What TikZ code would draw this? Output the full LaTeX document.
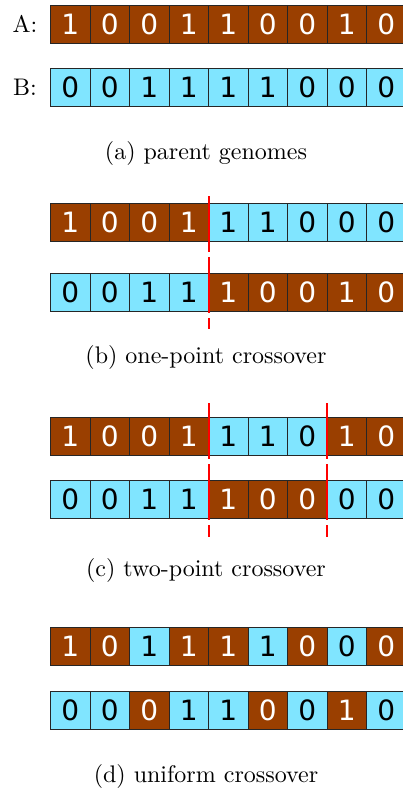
\documentclass[tikz,border=0pt]{standalone}
\usepackage{fontspec}
\newfontfamily\digitfont{DejaVu Sans}
\definecolor{gbrown}{HTML}{9A3F00}
\definecolor{gcyan}{HTML}{80E5FF}
\colorlet{fB}{gbrown}
\colorlet{tB}{white}
\colorlet{fC}{gcyan}
\colorlet{tC}{black}
\tikzset{
  cell/.style={draw=black!85, line width=0.8pt, minimum width=39.5pt, minimum height=38.5pt,
    inner sep=0pt, outer sep=0pt, anchor=north west, font=\digitfont\fontsize{28}{28}\selectfont},
  cutline/.style={draw=red, line width=2pt, dash pattern=on 56pt off 5pt},
  captext/.style={font=\rmfamily, scale=2.4, inner sep=0pt},
}
\newcommand\generow[3]{%
  \foreach \d/\s [count=\i] in {#3} {
    \node[cell, fill=f\s, text=t\s] (#1-\i) at ({50.5pt+(\i-1)*39.5pt}, {-#2pt}) {\d};
  }}
\begin{document}
\begin{tikzpicture}[x=1pt,y=1pt]
\useasboundingbox (0,0) rectangle (403,-792);
% (a)
\node[captext] (labA) at (25,-24) {A:};
\node[captext] (labB) at (25,-87) {B:};
\generow{a}{5}{1/B,0/B,0/B,1/B,1/B,0/B,0/B,1/B,0/B}
\generow{b}{68}{0/C,0/C,1/C,1/C,1/C,1/C,0/C,0/C,0/C}
\node[captext] (capa) at (206,-153) {(a) parent genomes};
% (b)
\generow{ba}{203}{1/B,0/B,0/B,1/B,1/C,1/C,0/C,0/C,0/C}
\generow{bb}{273}{0/C,0/C,1/C,1/C,1/B,0/B,0/B,1/B,0/B}
\coordinate (bt) at ([yshift=7pt]ba-4.north east);
\coordinate (bbot) at ([yshift=-17.5pt]bb-4.south east);
\draw[cutline] (bt) -- (bbot);
\node[captext] (capb) at (206,-357) {(b) one-point crossover};
% (c)
\generow{ca}{417}{1/B,0/B,0/B,1/B,1/C,1/C,0/C,1/B,0/B}
\generow{cb}{480}{0/C,0/C,1/C,1/C,1/B,0/B,0/B,0/C,0/C}
\coordinate (ct1) at ([yshift=14pt]ca-4.north east);
\coordinate (cb1) at ([yshift=-18.5pt]cb-4.south east);
\coordinate (ct2) at ([yshift=14pt]ca-7.north east);
\coordinate (cb2) at ([yshift=-18.5pt]cb-7.south east);
\draw[cutline] (ct1) -- (cb1);
\draw[cutline] (ct2) -- (cb2);
\node[captext] (capc) at (206,-570) {(c) two-point crossover};
% (d)
\generow{da}{627}{1/B,0/B,1/C,1/B,1/B,1/C,0/B,0/C,0/B}
\generow{db}{691}{0/C,0/C,0/B,1/C,1/C,0/B,0/C,1/B,0/C}
\node[captext] (capd) at (206,-776) {(d) uniform crossover};
\end{tikzpicture}
\end{document}
